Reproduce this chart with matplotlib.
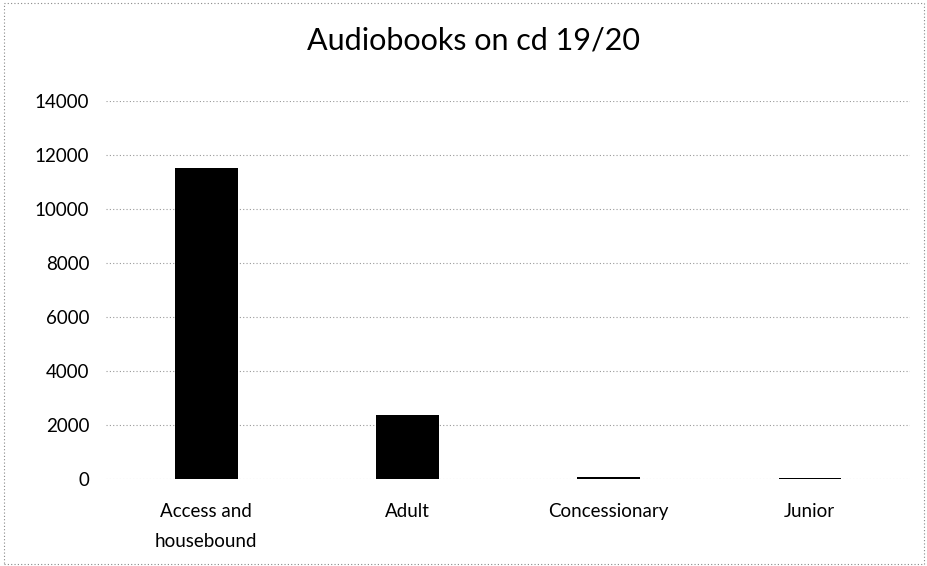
import matplotlib
matplotlib.use("Agg")
import matplotlib.pyplot as plt
from matplotlib.patches import Rectangle

categories = ["Access and\nhousebound", "Adult", "Concessionary", "Junior"]
values = [11500, 2380, 60, 45]
yticks = [0, 2000, 4000, 6000, 8000, 10000, 12000, 14000]
title = "Audiobooks on cd 19/20"

plt.rcParams['font.family'] = ['Lato', 'DejaVu Sans']

fig = plt.figure(figsize=(9.28, 5.66), dpi=100)
ax = fig.add_axes([0.114, 0.1537, 0.867, 0.668])

x = list(range(len(categories)))
ax.bar(x, values, width=0.31, color="black", zorder=3)
ax.set_xlim(-0.5, len(categories) - 0.5)
ax.set_ylim(0, 14000)
ax.set_yticks(yticks)
ax.set_yticklabels([str(v) for v in yticks], fontsize=13.5)
ax.set_xticks(x)
ax.set_xticklabels(categories, fontsize=13.5, linespacing=1.95)
ax.tick_params(axis="x", length=0, pad=17)
ax.tick_params(axis="y", length=0, pad=12)
for s in ax.spines.values():
    s.set_visible(False)
ax.yaxis.grid(True, linestyle=(0, (1, 2)), color="#999999", linewidth=0.8, zorder=0)
ax.set_axisbelow(True)

fig.text(0.51, 0.929, title, ha="center", va="center", fontsize=22)

fig.patches.append(Rectangle((0.004, 0.004), 0.992, 0.99, transform=fig.transFigure,
                             fill=False, linestyle=(0, (1, 2)), edgecolor="#888888",
                             linewidth=0.8))

fig.savefig("out.png", dpi=100)
